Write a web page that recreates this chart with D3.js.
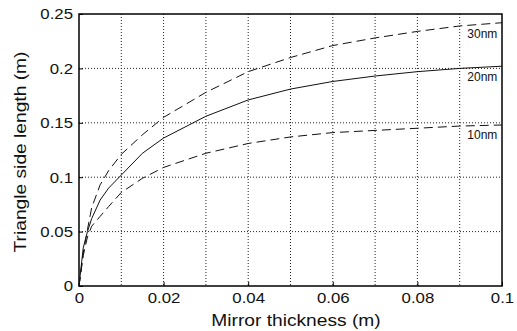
<!DOCTYPE html>
<html>
<head>
<meta charset="utf-8">
<script src="https://cdn.jsdelivr.net/npm/d3@7"></script>
<style>
  html, body { margin: 0; padding: 0; background: #fff; }
  svg { display: block; }
  text { font-family: "Liberation Sans", Arial, Helvetica, sans-serif; fill: #111; }
</style>
</head>
<body>
<svg id="chart" width="517" height="331"></svg>
<script>
// ---- data ----
const thickness = [0, 0.001, 0.002, 0.003, 0.005, 0.007, 0.01, 0.015, 0.02, 0.03, 0.04, 0.05, 0.06, 0.07, 0.08, 0.09, 0.1];
const side30nm  = [0, 0.030, 0.052, 0.072, 0.093, 0.106, 0.121, 0.139, 0.155, 0.178, 0.197, 0.210, 0.221, 0.228, 0.234, 0.239, 0.242];
const side20nm  = [0, 0.035, 0.050, 0.062, 0.079, 0.090, 0.102, 0.122, 0.136, 0.156, 0.171, 0.181, 0.188, 0.193, 0.197, 0.200, 0.202];
const side10nm  = [0, 0.028, 0.045, 0.055, 0.064, 0.073, 0.086, 0.099, 0.109, 0.122, 0.131, 0.137, 0.141, 0.143, 0.145, 0.147, 0.148];
const seriesNames = ["30nm", "20nm", "10nm"];
const labelY = [0.228, 0.188, 0.135];
const xTickValues = [0, 0.02, 0.04, 0.06, 0.08, 0.1];
const xTickLabels = ["0", "0.02", "0.04", "0.06", "0.08", "0.1"];
const xGridValues = [0.01, 0.02, 0.03, 0.04, 0.05, 0.06, 0.07, 0.08, 0.09];
const yTickValues = [0, 0.05, 0.1, 0.15, 0.2, 0.25];
const yTickLabels = ["0", "0.05", "0.1", "0.15", "0.2", "0.25"];
const xTitle = "Mirror thickness (m)";
const yTitle = "Triangle side length (m)";

// ---- layout ----
const mLeft = 79, mRight = 502, mTop = 14, mBottom = 286;
const svg = d3.select("#chart");
const x = d3.scaleLinear().domain([0, 0.1]).range([mLeft, mRight]);
const y = d3.scaleLinear().domain([0, 0.25]).range([mBottom, mTop]);
const SX = 1.2; // horizontal stretch of reference typography

// grid
const grid = svg.append("g");
grid.selectAll("line.vx").data(xGridValues).enter().append("line")
  .attr("x1", d => x(d)).attr("x2", d => x(d))
  .attr("y1", mTop).attr("y2", mBottom)
  .attr("stroke", "#222").attr("stroke-width", 1).attr("stroke-dasharray", "1,2");
grid.selectAll("line.hy").data(yTickValues.filter(v => v > 0 && v < 0.25)).enter().append("line")
  .attr("x1", mLeft).attr("x2", mRight)
  .attr("y1", d => y(d)).attr("y2", d => y(d))
  .attr("stroke", "#222").attr("stroke-width", 1).attr("stroke-dasharray", "1,2");

// axes (ticks inward)
const xAxis = d3.axisBottom(x).tickValues(xTickValues).tickFormat((d, i) => xTickLabels[i]).tickSizeInner(-4).tickSizeOuter(0).tickPadding(0);
const yAxis = d3.axisLeft(y).tickValues(yTickValues).tickFormat((d, i) => yTickLabels[i]).tickSizeInner(-4).tickSizeOuter(0).tickPadding(0);

const gx = svg.append("g").attr("transform", `translate(0,${mBottom})`).call(xAxis);
gx.select(".domain").remove();
gx.selectAll(".tick line").attr("stroke", "#000");
gx.selectAll(".tick text")
  .attr("y", 0).attr("dy", 0)
  .attr("transform", `translate(0,17) scale(${SX},1)`)
  .attr("font-size", 14).attr("fill", "#111").attr("text-anchor", "middle");

const gy = svg.append("g").attr("transform", `translate(${mLeft},0)`).call(yAxis);
gy.select(".domain").remove();
gy.selectAll(".tick line").attr("stroke", "#000");
gy.selectAll(".tick text")
  .attr("x", 0).attr("dy", "0.35em")
  .attr("transform", `translate(-6,0) scale(${SX},1)`)
  .attr("font-size", 14).attr("fill", "#111").attr("text-anchor", "end");

// frame
svg.append("rect").attr("x", mLeft).attr("y", mTop).attr("width", mRight - mLeft).attr("height", mBottom - mTop)
  .attr("fill", "none").attr("stroke", "#000").attr("stroke-width", 1.5);

// lines
const line = d3.line().x(d => x(d[0])).y(d => y(d[1]));
const seriesValues = [side30nm, side20nm, side10nm];
const dashes = ["9,5", null, "9,5"];
seriesValues.forEach((vals, i) => {
  svg.append("path")
    .datum(thickness.map((t, k) => [t, vals[k]]))
    .attr("d", line)
    .attr("fill", "none").attr("stroke", "#111").attr("stroke-width", 1)
    .attr("stroke-dasharray", dashes[i]);
});

// series labels
svg.selectAll("text.slabel").data(seriesNames).enter().append("text")
  .attr("class", "slabel")
  .attr("x", x(0.0918)).attr("y", (d, i) => y(labelY[i]))
  .attr("font-size", 12).text(d => d);

// titles
svg.append("text")
  .attr("transform", `translate(296,326) scale(${SX},1)`)
  .attr("text-anchor", "middle").attr("font-size", 16).text(xTitle);
svg.append("text")
  .attr("transform", `translate(26,152) rotate(-90) scale(${SX},1)`)
  .attr("text-anchor", "middle").attr("font-size", 16).text(yTitle);
</script>
</body>
</html>
